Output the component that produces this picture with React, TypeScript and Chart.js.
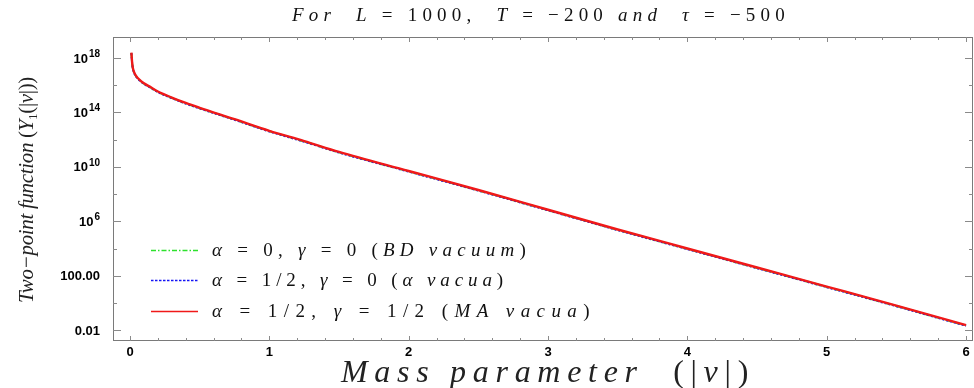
import React, { useEffect, useRef } from "react";
import { Chart, registerables } from "chart.js";
Chart.register(...registerables);

// Mass parameter |nu|
const nu = [0.01, 0.015, 0.02, 0.03, 0.05, 0.075, 0.1, 0.15, 0.2, 0.3, 0.4, 0.5, 0.75, 1.0, 1.25, 1.5, 2.0, 2.5, 3.0, 3.5, 4.0, 4.5, 5.0, 5.5, 6.0];
// alpha = 0, gamma = 0 (BD vacuum)
const yBD = [2.35e18, 4.7e17, 1.87e17, 8.3e16, 3.75e16, 2.05e16, 1.3e16, 6.6e15, 3.26e15, 1.17e15, 4.65e14, 2.05e14, 2.98e13, 4.2e12, 7.35e11, 1.17e11, 4.65e9, 1.86e8, 6.6e6, 2.33e5, 9.3e3, 372, 14.9, 0.59, 0.0214];
// alpha = 1/2, gamma = 0 (alpha vacua)
const yAlpha = [2.25e18, 4.5e17, 1.8e17, 8.0e16, 3.6e16, 1.98e16, 1.26e16, 6.4e15, 3.15e15, 1.13e15, 4.5e14, 1.98e14, 2.9e13, 4.05e12, 7.1e11, 1.13e11, 4.5e9, 1.8e8, 6.4e6, 2.25e5, 9.0e3, 360, 14.4, 0.57, 0.0207];
// alpha = 1/2, gamma = 1/2 (MA vacua)
const yMA = [2.5e18, 5.0e17, 2.0e17, 8.9e16, 4.0e16, 2.2e16, 1.4e16, 7.1e15, 3.5e15, 1.26e15, 5.0e14, 2.2e14, 3.2e13, 4.5e12, 7.9e11, 1.26e11, 5.0e9, 2.0e8, 7.1e6, 2.5e5, 1.0e4, 400, 16, 0.63, 0.023];

const xMajorTicks = [0, 1, 2, 3, 4, 5, 6];
const xMajorLabels = ["0", "1", "2", "3", "4", "5", "6"];
const xMinorStep = 0.2;
const yMajorTicks = [1e-2, 1e2, 1e6, 1e10, 1e14, 1e18];
const yMajorLabels: [string, string][] = [["0.01", ""], ["100.00", ""], ["10", "6"], ["10", "10"], ["10", "14"], ["10", "18"]];
const yMinorTicks = [1, 1e4, 1e8, 1e12, 1e16];

const GREEN = "rgb(45,225,45)";
const BLUE = "rgb(20,20,245)";
const RED = "rgb(240,25,25)";

const SERIF = "'Liberation Serif', 'DejaVu Serif', serif";
const IT = (px: number) => `italic ${px}px ${SERIF}`;
const UP = (px: number) => `${px}px ${SERIF}`;
const SANSB = (px: number) => `bold ${px}px 'Liberation Sans', Arial, sans-serif`;

type Run = { t: string; f: string; dy?: number };

function drawRuns(ctx: CanvasRenderingContext2D, runs: Run[], x0: number, x1: number, y: number) {
  (ctx as any).letterSpacing = "0px";
  let total = 0;
  let chars = 0;
  const widths: number[] = [];
  runs.forEach((r) => {
    ctx.font = r.f;
    const w = ctx.measureText(r.t).width;
    widths.push(w);
    total += w;
    chars += [...r.t].length;
  });
  const extra = (x1 - x0 - total) / Math.max(1, chars);
  let x = x0;
  ctx.textAlign = "left";
  runs.forEach((r, i) => {
    ctx.font = r.f;
    (ctx as any).letterSpacing = extra + "px";
    ctx.fillText(r.t, x, y + (r.dy || 0));
    x += widths[i] + extra * [...r.t].length;
  });
  (ctx as any).letterSpacing = "0px";
}

const decorPlugin = {
  id: "decor",
  afterDraw(chart: any) {
    const ctx: CanvasRenderingContext2D = chart.ctx;
    const { left, right, top, bottom } = chart.chartArea;
    const xs = chart.scales.x;
    const ys = chart.scales.y;
    ctx.save();
    // frame
    ctx.strokeStyle = "#7a7a7a";
    ctx.lineWidth = 1;
    ctx.strokeRect(left + 0.5, top + 0.5, right - left - 1, bottom - top - 1);
    // ticks
    ctx.strokeStyle = "#8a8a8a";
    ctx.beginPath();
    const xTick = (v: number, len: number) => {
      const p = Math.round(xs.getPixelForValue(v)) + 0.5;
      ctx.moveTo(p, bottom);
      ctx.lineTo(p, bottom - len);
      ctx.moveTo(p, top);
      ctx.lineTo(p, top + len);
    };
    const yTick = (v: number, len: number) => {
      const p = Math.round(ys.getPixelForValue(v)) + 0.5;
      ctx.moveTo(left, p);
      ctx.lineTo(left + len, p);
      ctx.moveTo(right, p);
      ctx.lineTo(right - len, p);
    };
    xMajorTicks.forEach((v) => xTick(v, 5));
    for (let k = 1; k < 30; k++) {
      const v = k * xMinorStep;
      if (Math.abs(v - Math.round(v)) < 1e-6) continue;
      if (v > xs.max) break;
      xTick(v, 3);
    }
    yMajorTicks.forEach((v) => yTick(v, 8));
    yMinorTicks.forEach((v) => yTick(v, 4));
    ctx.stroke();

    // tick labels
    ctx.fillStyle = "#000";
    ctx.textBaseline = "middle";
    ctx.font = SANSB(13);
    ctx.textAlign = "center";
    xMajorTicks.forEach((v, i) => {
      ctx.fillText(xMajorLabels[i], xs.getPixelForValue(v), 352);
    });
    yMajorTicks.forEach((v, i) => {
      const py = ys.getPixelForValue(v);
      const [base, exp] = yMajorLabels[i];
      const rx = 100;
      ctx.textAlign = "left";
      ctx.font = SANSB(13);
      const wb = ctx.measureText(base).width;
      ctx.font = SANSB(10);
      const we = exp ? ctx.measureText(exp).width + 1 : 0;
      const x0 = rx - wb - we;
      ctx.font = SANSB(13);
      ctx.fillText(base, x0, py + 1);
      if (exp) {
        ctx.font = SANSB(10);
        ctx.fillText(exp, x0 + wb + 1, py - 4);
      }
    });

    // title
    ctx.fillStyle = "#111";
    ctx.textBaseline = "alphabetic";
    drawRuns(ctx, [
      { t: "For  L", f: IT(19) },
      { t: " = 1000,  ", f: UP(19) },
      { t: "T", f: IT(19) },
      { t: " = \u2212200 ", f: UP(19) },
      { t: "and  \u03c4", f: IT(19) },
      { t: " = \u2212500", f: UP(19) },
    ], 292, 790, 21);

    // x title
    ctx.fillStyle = "#222";
    drawRuns(ctx, [
      { t: "Mass parameter", f: IT(32) },
      { t: "  (|", f: UP(32) },
      { t: "\u03bd", f: IT(32) },
      { t: "|)", f: UP(32) },
    ], 341, 755, 382);

    // y title (rotated)
    ctx.save();
    ctx.translate(33, 190);
    ctx.rotate(-Math.PI / 2);
    drawRuns(ctx, [
      { t: "Two\u2212point function ", f: IT(21) },
      { t: "(", f: UP(21) },
      { t: "Y", f: IT(21) },
      { t: "1", f: UP(13), dy: 4 },
      { t: "(|", f: UP(21) },
      { t: "\u03bd", f: IT(21) },
      { t: "|))", f: UP(21) },
    ], -113, 113, 0);
    ctx.restore();

    // legend
    const leg = [
      { color: GREEN, dash: [5, 2, 1.5, 2], y: 250, runs: [
        { t: "\u03b1", f: IT(19) }, { t: " = 0, ", f: UP(19) }, { t: "\u03b3", f: IT(19) }, { t: " = 0 (", f: UP(19) },
        { t: "BD vacuum", f: IT(19) }, { t: ")", f: UP(19) }], x1: 531 },
      { color: BLUE, dash: [2.5, 1.5], y: 280, runs: [
        { t: "\u03b1", f: IT(19) }, { t: " = 1/2, ", f: UP(19) }, { t: "\u03b3", f: IT(19) }, { t: " = 0 (", f: UP(19) },
        { t: "\u03b1 vacua", f: IT(19) }, { t: ")", f: UP(19) }], x1: 508 },
      { color: RED, dash: [], y: 311, runs: [
        { t: "\u03b1", f: IT(19) }, { t: " = 1/2, ", f: UP(19) }, { t: "\u03b3", f: IT(19) }, { t: " = 1/2 (", f: UP(19) },
        { t: "MA vacua", f: IT(19) }, { t: ")", f: UP(19) }], x1: 596 },
    ];
    leg.forEach((L) => {
      ctx.strokeStyle = L.color;
      ctx.lineWidth = 1.6;
      ctx.setLineDash(L.dash);
      ctx.beginPath();
      ctx.moveTo(151, L.y + 0.5);
      ctx.lineTo(198, L.y + 0.5);
      ctx.stroke();
      ctx.setLineDash([]);
      ctx.fillStyle = "#111";
      drawRuns(ctx, L.runs, 212, L.x1, L.y + 6);
    });
    ctx.restore();
  },
};

export default function App() {
  const ref = useRef<HTMLCanvasElement | null>(null);
  useEffect(() => {
    document.body.style.margin = "0";
    const mk = (arr: number[]) => nu.map((x, i) => ({ x, y: arr[i] }));
    const chart = new Chart(ref.current as HTMLCanvasElement, {
      type: "line",
      data: {
        datasets: [
          { label: "MA", data: mk(yMA), borderColor: RED, borderWidth: 2.4, pointRadius: 0, cubicInterpolationMode: "monotone", fill: false },
          { label: "alpha", data: mk(yAlpha), borderColor: BLUE, borderWidth: 2, borderDash: [2, 2], pointRadius: 0, cubicInterpolationMode: "monotone", fill: false },
          { label: "BD", data: mk(yBD), borderColor: GREEN, borderWidth: 2, borderDash: [5, 2, 1.5, 2], pointRadius: 0, cubicInterpolationMode: "monotone", fill: false },
        ],
      },
      options: {
        animation: false,
        responsive: false,
        maintainAspectRatio: false,
        layout: { padding: { left: 0, right: 1, top: 37, bottom: 0 } },
        plugins: { legend: { display: false }, tooltip: { enabled: false }, title: { display: false } },
        scales: {
          x: {
            type: "linear",
            min: -0.122,
            max: 6.05,
            grid: { display: false },
            border: { display: false },
            ticks: { display: false },
            afterFit: (s: any) => { s.height = 47; },
          },
          y: {
            type: "logarithmic",
            min: Math.pow(10, -2.8),
            max: Math.pow(10, 19.55),
            grid: { display: false },
            border: { display: false },
            ticks: { display: false },
            afterFit: (s: any) => { s.width = 113; },
          },
        },
      },
      plugins: [decorPlugin],
    } as any);
    return () => chart.destroy();
  }, []);
  return <canvas ref={ref} width={974} height={388} style={{ display: "block" }} />;
}
